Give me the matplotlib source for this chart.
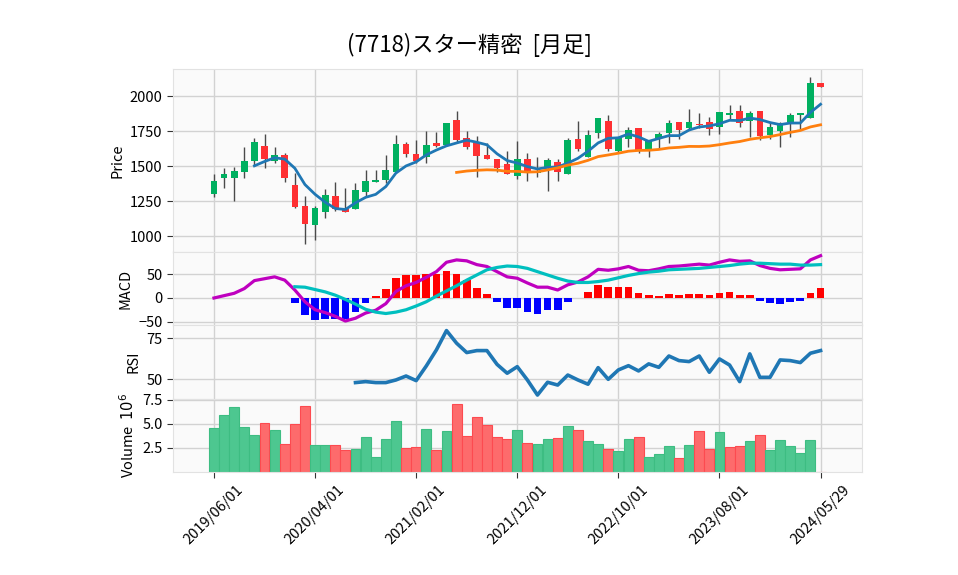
import numpy as np
import pandas as pd
import matplotlib
matplotlib.use('Agg')
import matplotlib.pyplot as plt

plt.rcParams['font.family'] = ['Noto Sans CJK JP', 'DejaVu Sans']

title = '(7718)スター精密  [月足]'

# monthly bars, last one is the running month
dates = list(pd.date_range('2019-06-01', periods=60, freq='MS')) + [pd.Timestamp('2024-05-29')]

opens = [1302, 1417, 1417, 1460, 1538, 1643, 1538, 1579, 1364, 1214,
         1081, 1174, 1286, 1193, 1195, 1317, 1388, 1400, 1460, 1657,
         1586, 1567, 1664, 1650, 1829, 1698, 1662, 1579, 1550, 1514,
         1431, 1550, 1452, 1495, 1526, 1445, 1690, 1567, 1733, 1819,
         1610, 1695, 1771, 1624, 1698, 1738, 1814, 1769, 1800, 1814,
         1776, 1867, 1890, 1824, 1890, 1721, 1750, 1817, 1867, 1840,
         2093]
highs = [1440, 1483, 1490, 1633, 1698, 1726, 1633, 1590, 1448, 1286,
         1214, 1333, 1383, 1343, 1376, 1471, 1471, 1576, 1721, 1670,
         1686, 1750, 1740, 1807, 1893, 1750, 1714, 1662, 1550, 1610,
         1679, 1590, 1562, 1555, 1552, 1702, 1819, 1757, 1840, 1862,
         1705, 1781, 1771, 1681, 1745, 1829, 1814, 1905, 1876, 1848,
         1883, 1933, 1933, 1895, 1890, 1805, 1817, 1876, 1879, 2133,
         2093]
lows = [1281, 1340, 1252, 1412, 1500, 1483, 1519, 1388, 1202, 943,
        969, 1126, 1181, 1174, 1195, 1286, 1388, 1376, 1450, 1562,
        1519, 1524, 1633, 1650, 1674, 1619, 1424, 1548, 1455, 1443,
        1407, 1395, 1419, 1321, 1393, 1445, 1610, 1567, 1698, 1610,
        1600, 1638, 1595, 1562, 1626, 1662, 1690, 1757, 1769, 1719,
        1729, 1829, 1781, 1710, 1686, 1690, 1633, 1705, 1762, 1840,
        2067]
closes = [1393, 1443, 1464, 1536, 1671, 1548, 1576, 1417, 1210, 1088,
          1200, 1293, 1193, 1174, 1329, 1393, 1400, 1471, 1657, 1583,
          1538, 1648, 1645, 1807, 1686, 1638, 1574, 1552, 1488, 1443,
          1550, 1448, 1467, 1543, 1460, 1686, 1621, 1719, 1840, 1624,
          1705, 1757, 1614, 1681, 1729, 1805, 1757, 1814, 1790, 1767,
          1883, 1879, 1805, 1879, 1714, 1776, 1805, 1862, 1879, 2093,
          2067]
# volume in millions of shares
volumes = [4.54, 5.93, 6.79, 4.64, 3.79, 5.04, 4.32, 2.89, 4.93, 6.86,
           2.79, 2.79, 2.79, 2.29, 2.39, 3.64, 1.54, 3.46, 5.30, 2.50,
           2.60, 4.43, 2.30, 4.22, 7.08, 3.69, 5.71, 4.84, 3.66, 3.45,
           4.32, 3.02, 2.89, 3.46, 3.54, 4.82, 4.32, 3.25, 2.93, 2.39,
           2.18, 3.46, 3.64, 1.54, 1.86, 2.71, 1.43, 2.82, 4.21, 2.39,
           4.11, 2.61, 2.71, 3.25, 3.79, 2.29, 3.36, 2.71, 1.96, 3.36,
           0.05]

nan = np.nan
macd = [0, 5, 10, 20, 37, 41, 45, 38, 17, -8,
        -25, -31, -39, -49, -43, -32, -26, -12, 14, 26,
        33, 44, 56, 76, 81, 79, 71, 67, 56, 45,
        42, 32, 23, 23, 17, 28, 34, 45, 61, 59,
        62, 67, 59, 58, 62, 67, 68, 70, 72, 70,
        76, 81, 78, 79, 69, 63, 60, 61, 62, 81,
        90]
signal = [nan] * 8 + [24, 23,
          18, 13, 6, -3, -13, -24, -30, -33, -30, -25,
          -17, -8, 4, 15, 26, 38, 49, 60, 65, 68,
          67, 63, 56, 49, 42, 36, 33, 33, 35, 38,
          43, 48, 52, 55, 57, 60, 61, 62, 63, 65,
          67, 69, 72, 74, 74, 73, 72, 72, 70, 70,
          71]
hist = [nan] * 8 + [-10, -36,
        -47, -45, -44, -45, -29, -10, 4, 20, 42, 49,
        49, 52, 51, 58, 51, 38, 21, 8, -8, -21,
        -22, -30, -33, -25, -25, -8, 1, 13, 28, 23,
        23, 23, 11, 6, 4, 8, 6, 8, 8, 6,
        11, 13, 6, 6, -6, -10, -12, -8, -6, 11,
        21]
rsi = [nan] * 14 + [48.0, 48.6, 48.0, 48.0, 49.6, 52.0,
       49.2, 58.1, 67.9, 79.7, 72.0, 66.3, 67.5, 67.5, 59.1, 53.7,
       57.7, 49.6, 40.4, 48.2, 46.5, 52.6, 49.6, 47.0, 57.1, 50.0,
       55.7, 58.3, 55.1, 59.4, 57.3, 64.2, 61.4, 60.8, 64.2, 54.3,
       62.4, 58.7, 48.6, 65.5, 51.2, 51.2, 61.8, 61.4, 60.2, 65.9,
       67.5]

x = np.arange(len(closes))
o = np.array(opens, float)
h = np.array(highs, float)
l = np.array(lows, float)
c = np.array(closes, float)
ma5 = pd.Series(c).rolling(5).mean()
ma25 = pd.Series(c).rolling(25).mean()

up_col, dn_col = '#00b060', '#fe3032'
bg = '#fafafa'
grid_col = '#d2d2d2'

fig = plt.figure(figsize=(9.58, 5.75), dpi=100)
left, width = 0.1806, 0.7192
ax_p = fig.add_axes([left, 0.5617, width, 0.3183])
ax_m = fig.add_axes([left, 0.4348, width, 0.1270], sharex=ax_p)
ax_r = fig.add_axes([left, 0.3061, width, 0.1287], sharex=ax_p)
ax_v = fig.add_axes([left, 0.1791, width, 0.1270], sharex=ax_p)

# price panel
up = c >= o
ax_p.vlines(x, l, h, color='#4a4a4a', lw=1.0, zorder=2)
ax_p.bar(x, np.abs(c - o), bottom=np.minimum(o, c), width=0.66,
         color=np.where(up, up_col, dn_col), zorder=3)
ax_p.plot(x, ma5, color='#1f77b4', lw=2.0, zorder=4)
ax_p.plot(x, ma25, color='#ff7f0e', lw=2.0, zorder=4)
ax_p.set_ylim(886, 2193)
ax_p.set_yticks([1000, 1250, 1500, 1750, 2000])
ax_p.set_ylabel('Price')

# macd panel
hv = np.array(hist, float)
ax_m.bar(x, hv, width=0.76, color=np.where(hv >= 0, 'red', 'blue'), zorder=2)
ax_m.plot(x, macd, color='m', lw=2.3, zorder=3)
ax_m.plot(x, signal, color='c', lw=2.3, zorder=3)
ax_m.set_ylim(-57.4, 97.9)
ax_m.set_yticks([-50, 0, 50])
ax_m.set_ylabel('MACD')

# rsi panel
ax_r.plot(x, rsi, color='#1f77b4', lw=2.6)
ax_r.set_ylim(38.0, 83.1)
ax_r.set_yticks([50, 75])
ax_r.set_ylabel('RSI')

# volume panel, coloured against previous close
vup = np.concatenate([[True], c[1:] >= c[:-1]])
ax_v.bar(x, volumes, width=0.98, color=np.where(vup, '#4dc790', '#fd6b6c'),
         edgecolor=np.where(vup, '#3dbd82', '#fd4a50'), lw=0.8, zorder=2)
ax_v.set_ylim(0, 7.57)
ax_v.set_yticks([2.5, 5.0, 7.5])
ax_v.set_ylabel('Volume  $10^{6}$')

ticks = [0, 10, 20, 30, 40, 50, 60]
for ax in (ax_p, ax_m, ax_r, ax_v):
    ax.set_facecolor(bg)
    ax.grid(True, color=grid_col, lw=1.0, zorder=0)
    ax.set_axisbelow(True)
    for s in ax.spines.values():
        s.set_color('#e2e2e2')
    ax.tick_params(axis='y', labelsize=10.5, length=4, color='#333333')
    ax.tick_params(axis='x', bottom=False, labelbottom=False)
    ax.yaxis.label.set_size(10.5)

ax_v.set_xticks(ticks)
ax_v.set_xticklabels([dates[i].strftime('%Y/%m/%d') for i in ticks], rotation=45)
ax_v.tick_params(axis='x', bottom=True, labelbottom=True, labelsize=10.5, length=4, color='#333333')
ax_v.set_xlim(-4.05, 64.1)

fig.text(0.49, 0.922, title, ha='center', va='center', fontsize=16)

fig.savefig('out.png', dpi=100)
